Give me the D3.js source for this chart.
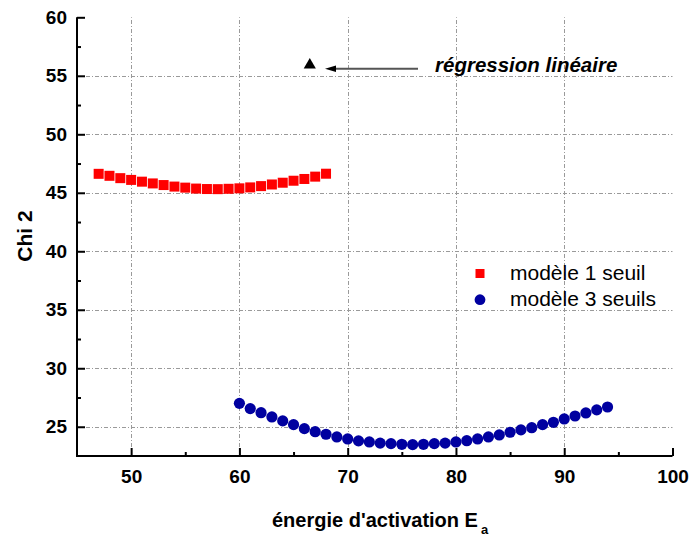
<!DOCTYPE html>
<html><head><meta charset="utf-8">
<script src="https://cdn.jsdelivr.net/npm/d3@7"></script>
<style>body{margin:0;background:#fff;} svg{display:block;}</style>
</head><body>
<svg id="chart" width="689" height="536"></svg>
<script>
const model1X = [47,48,49,50,51,52,53,54,55,56,57,58,59,60,61,62,63,64,65,66,67,68];
const model1Y = [46.62,46.45,46.25,46.1,45.95,45.8,45.66,45.53,45.44,45.36,45.32,45.31,45.34,45.38,45.46,45.57,45.71,45.86,46.03,46.18,46.38,46.63];
const model3X = [60,61,62,63,64,65,66,67,68,69,70,71,72,73,74,75,76,77,78,79,80,81,82,83,84,85,86,87,88,89,90,91,92,93,94];
const model3Y = [27.0,26.55,26.2,25.84,25.5,25.18,24.84,24.58,24.36,24.13,23.96,23.79,23.7,23.6,23.56,23.5,23.47,23.5,23.56,23.6,23.7,23.81,23.96,24.13,24.3,24.53,24.73,24.92,25.18,25.38,25.67,25.92,26.18,26.44,26.69];
const regressionPoint = {x: 66.5, y: 56};
const xTicks = [50,60,70,80,90,100];
const yTicks = [25,30,35,40,45,50,55,60];
const legendLabels = ["modèle 1 seuil","modèle 3 seuils"];
const annotationText = "régression linéaire";
const xTitle = "énergie d'activation E";
const xTitleSub = "a";
const yTitle = "Chi 2";

const svg = d3.select("#chart");
const x = d3.scaleLinear().domain([45,100]).range([77,672.5]);
const y = d3.scaleLinear().domain([22.5,60]).range([456,17.3]);
const FONT = "Arial, 'Liberation Sans', Helvetica, sans-serif";

// grid
const grid = svg.append("g").attr("stroke","#9a9a9a").attr("stroke-width",1).attr("stroke-dasharray","4,2,1,2").attr("fill","none");
grid.selectAll("line.h").data(yTicks.filter(d=>d<60)).join("line")
  .attr("x1",x(45)).attr("x2",x(100)).attr("y1",d=>Math.round(y(d))+0.5).attr("y2",d=>Math.round(y(d))+0.5);
grid.selectAll("line.v").data(xTicks.filter(d=>d<100)).join("line")
  .attr("y1",y(22.5)).attr("y2",y(60)).attr("x1",d=>Math.round(x(d))+0.5).attr("x2",d=>Math.round(x(d))+0.5);

// axes
const xAxis = d3.axisBottom(x).tickValues(xTicks).tickSize(-8).tickPadding(14).tickFormat(d3.format("d"));
svg.append("g").attr("transform",`translate(0,${y(22.5)})`).call(xAxis);
const xMinor = d3.axisBottom(x).tickValues([55,65,75,85,95]).tickSize(-4).tickFormat("");
svg.append("g").attr("transform",`translate(0,${y(22.5)})`).call(xMinor);
const yAxis = d3.axisLeft(y).tickValues(yTicks).tickSize(-8).tickPadding(10).tickFormat(d3.format("d"));
svg.append("g").attr("transform",`translate(${x(45)},0)`).call(yAxis);
const yMinor = d3.axisLeft(y).tickValues([27.5,32.5,37.5,42.5,47.5,52.5,57.5]).tickSize(-4).tickFormat("");
svg.append("g").attr("transform",`translate(${x(45)},0)`).call(yMinor);
svg.selectAll(".domain").remove();
svg.append("line").attr("x1",x(45)).attr("x2",x(100)).attr("y1",y(22.5)).attr("y2",y(22.5)).attr("stroke","#000").attr("stroke-width",2);
svg.append("line").attr("x1",x(45)).attr("x2",x(45)).attr("y1",y(22.5)+1).attr("y2",y(60)).attr("stroke","#000").attr("stroke-width",2);
svg.selectAll(".tick line").attr("stroke","#000").attr("stroke-width",2);
svg.selectAll(".tick text").attr("font-family",FONT).attr("font-size",19).attr("font-weight","bold").attr("fill","#000");

// axis titles
const xt = svg.append("text").attr("x",272).attr("y",527).attr("font-family",FONT).attr("font-size",20).attr("font-weight","bold").attr("fill","#000").text(xTitle);
xt.append("tspan").attr("font-size",13).attr("dy",7).attr("dx",3).text(xTitleSub);
svg.append("text").attr("transform","translate(32,236) rotate(-90)").attr("text-anchor","middle")
  .attr("font-family",FONT).attr("font-size",21).attr("font-weight","bold").attr("fill","#000").text(yTitle);

// series
svg.append("g").selectAll("rect").data(model1X.map((d,i)=>[d,model1Y[i]])).join("rect")
  .attr("x",d=>x(d[0])-5).attr("y",d=>y(d[1])-5).attr("width",10).attr("height",10).attr("fill","#ff0000");
svg.append("g").selectAll("circle").data(model3X.map((d,i)=>[d,model3Y[i]])).join("circle")
  .attr("cx",d=>x(d[0])).attr("cy",d=>y(d[1])).attr("r",5.6).attr("fill","#0000a0");

// regression point
svg.append("path").attr("d",d3.symbol(d3.symbolTriangle,64)())
  .attr("transform",`translate(${x(regressionPoint.x)},${y(regressionPoint.y)+1})`).attr("fill","#000");

// arrow
svg.append("line").attr("x1",418).attr("x2",335).attr("y1",68.7).attr("y2",68.7).attr("stroke","#555").attr("stroke-width",2);
svg.append("path").attr("d","M325,68.7 L336,65.5 L336,72 Z").attr("fill","#000");
svg.append("text").attr("x",435).attr("y",72).attr("font-family",FONT).attr("font-size",20.5).attr("font-weight","bold").attr("font-style","italic").attr("fill","#000").text(annotationText);

// legend
const lg = svg.append("g");
lg.append("rect").attr("x",475.5).attr("y",269).attr("width",9).attr("height",9).attr("fill","#ff0000");
lg.append("circle").attr("cx",480).attr("cy",299.7).attr("r",5.4).attr("fill","#0000a0");
lg.selectAll("text").data(legendLabels).join("text").attr("x",510).attr("y",(d,i)=>280+i*26)
  .attr("font-family",FONT).attr("font-size",21).attr("fill","#000").text(d=>d);
</script>
</body></html>
